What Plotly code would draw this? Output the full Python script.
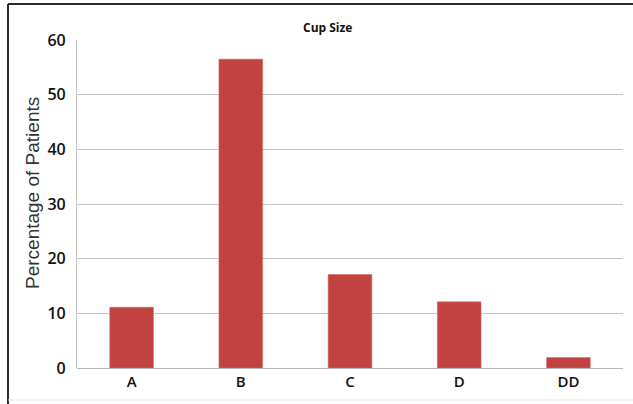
import plotly.graph_objects as go

# Cup size distribution
cup_sizes = ["A", "B", "C", "D", "DD"]
pct_patients = [11.1, 56.5, 17.1, 12.1, 1.9]
y_ticks = [0, 10, 20, 30, 40, 50, 60]

W, H = 633, 404
L, R, T, B = 77, 10, 40, 36
pw, ph = W - L - R, H - T - B


def px_x(p):
    return (p - L) / pw


def px_y(p):
    return (H - B - p) / ph


fig = go.Figure(
    go.Bar(
        x=cup_sizes,
        y=pct_patients,
        marker=dict(color="#C24141", line=dict(color="#D86A68", width=0.6)),
        hoverinfo="x+y",
    )
)

fig.update_layout(
    width=W,
    height=H,
    margin=dict(l=L, r=R, t=T, b=B),
    paper_bgcolor="white",
    plot_bgcolor="white",
    bargap=0.6,
    showlegend=False,
    font=dict(family="Open Sans, Lato, sans-serif", color="#111111"),
    xaxis=dict(
        showgrid=False,
        showline=False,
        ticks="",
        tickfont=dict(size=15, color="#111111", weight=600),
        ticklabelstandoff=3,
    ),
    yaxis=dict(
        range=[0, 60],
        tickvals=y_ticks,
        showgrid=True,
        gridcolor="#C4C4C4",
        gridwidth=1.2,
        zeroline=True,
        zerolinecolor="#B8B8B8",
        zerolinewidth=1.2,
        showline=True,
        linecolor="#C4C4C4",
        linewidth=1.2,
        ticks="",
        tickfont=dict(size=16, color="#111111", weight=600),
        ticklabelstandoff=7,
    ),
    annotations=[
        dict(
            text="<b>Cup Size</b>",
            xref="paper", yref="paper",
            x=px_x(327), y=px_y(28),
            xanchor="center", yanchor="middle",
            showarrow=False,
            font=dict(size=12, color="#111111", family="Open Sans, sans-serif"),
        ),
        dict(
            text="Percentage of Patients",
            xref="paper", yref="paper",
            x=px_x(32), y=px_y(193),
            xanchor="center", yanchor="middle",
            textangle=-90,
            showarrow=False,
            font=dict(size=19, color="#333333", family="Liberation Sans, Arial, sans-serif"),
        ),
    ],
    shapes=[
        # frame around the chart
        dict(type="line", xref="paper", yref="paper",
             x0=px_x(8), x1=px_x(8), y0=px_y(404), y1=px_y(4),
             line=dict(color="#2b2b2b", width=2)),
        dict(type="line", xref="paper", yref="paper",
             x0=px_x(8), x1=px_x(634), y0=px_y(4), y1=px_y(4),
             line=dict(color="#2b2b2b", width=2)),
        dict(type="line", xref="paper", yref="paper",
             x0=px_x(8), x1=px_x(634), y0=px_y(400), y1=px_y(400),
             line=dict(color="#E6E6E6", width=1)),
    ],
)

fig.write_html("out.html")
